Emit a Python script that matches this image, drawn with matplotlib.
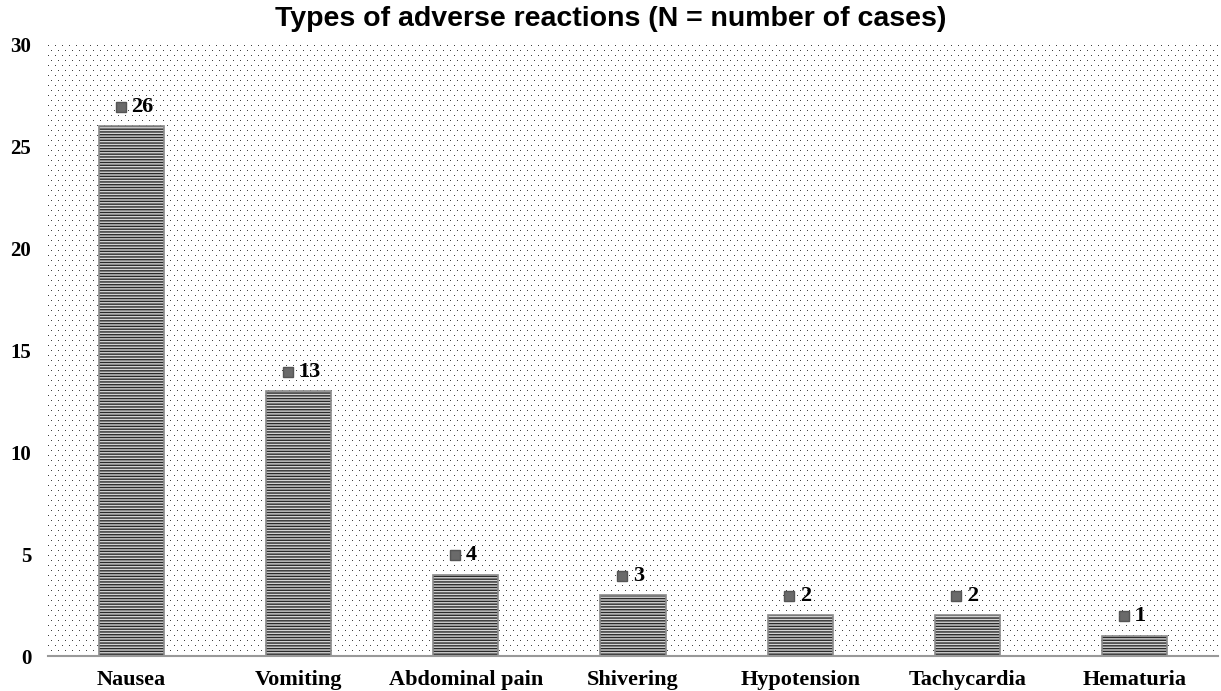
import matplotlib
matplotlib.use("Agg")
import matplotlib.pyplot as plt
import numpy as np

categories = ["Nausea", "Vomiting", "Abdominal pain", "Shivering", "Hypotension", "Tachycardia", "Hematuria"]
values = [26, 13, 4, 3, 2, 2, 1]
yticks = [0, 5, 10, 15, 20, 25, 30]
title = "Types of adverse reactions (N = number of cases)"

plt.rcParams['hatch.linewidth'] = 1.0
W, H = 1221, 691
fig = plt.figure(figsize=(W / 100, H / 100), dpi=100)
ax_rect = [48 / W, 35 / H, 1170 / W, 611 / H]
ax = fig.add_axes(ax_rect)

# dotted background texture (tiled pixel pattern)
pw, ph = 1170, 611
tex = np.ones((ph, pw))
for r in range(0, ph, 5):
    off = 0 if (r // 5) % 2 == 0 else 3
    tex[r, off::7] = 0.25
ax.imshow(tex, cmap='gray', vmin=0, vmax=1, extent=(0, 1, 0, 1), transform=ax.transAxes,
          aspect='auto', interpolation='nearest', zorder=0)
ax.set_xlim(-0.5, len(categories) - 0.5)
ax.set_ylim(0, 30)

x = list(range(len(categories)))
ax.bar(x, values, width=0.39, color='#d4d4d4', edgecolor='#2a2a2a',
       hatch='------', linewidth=0, zorder=2)
for xi, v in zip(x, values):
    ax.bar(xi, v, width=0.39, fill=False, edgecolor='#8a8a8a', linewidth=1.2, zorder=3)
    ax.plot(xi - 0.065, v + 0.95, marker='s', markersize=6.5, color='#6a6a6a',
            markeredgecolor='#555555', zorder=4, clip_on=False)
    ax.text(xi + 0.0, v + 0.95, str(v), ha='left', va='center', fontsize=16,
            fontweight='bold', family='Liberation Serif', zorder=4)

ax.set_xticks(x)
ax.set_xticklabels(categories, fontsize=16, fontweight='bold', family='Liberation Serif')
ax.set_yticks(yticks)
ax.set_yticklabels([str(t) for t in yticks], fontsize=15, fontweight='bold', family='Liberation Serif')
ax.tick_params(axis='both', length=0)
ax.tick_params(axis='x', pad=10)
ax.tick_params(axis='y', pad=12)
for s in ['left', 'right', 'top']:
    ax.spines[s].set_visible(False)
ax.spines['bottom'].set_color('#999999')
ax.spines['bottom'].set_linewidth(1.5)
ax.spines['bottom'].set_zorder(5)

fig.text(0.5, 0.972, title, ha='center', va='center', fontsize=20.5, fontweight='bold',
         family='Liberation Sans')

fig.savefig("out.png", dpi=100)
